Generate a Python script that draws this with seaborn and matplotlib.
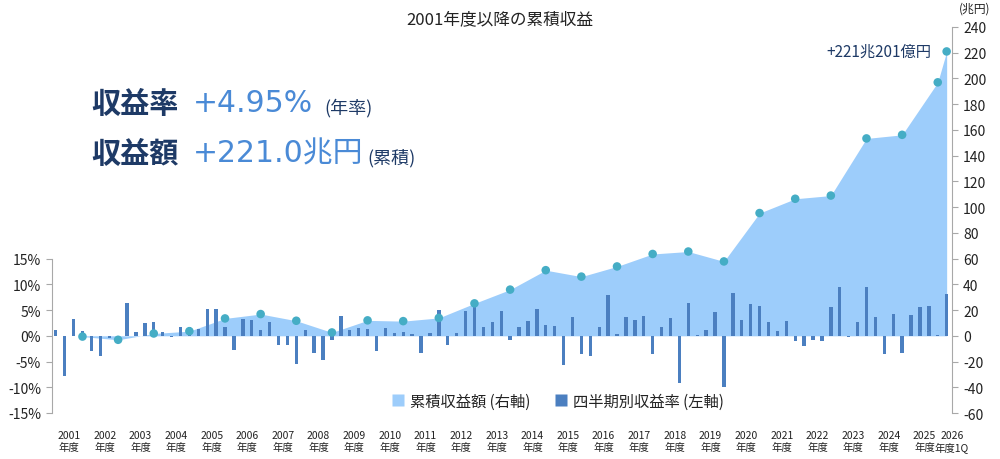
import numpy as np
import pandas as pd
import matplotlib
matplotlib.use("Agg")
import matplotlib.pyplot as plt
from matplotlib.lines import Line2D
import seaborn as sns

# ---------------- data ----------------
fiscal_years = [str(y) for y in range(2001, 2026)]
quarterly_returns = [
    1.1, -7.8, 3.2, 1.0,     # 2001
    -3.0, -4.0, -0.5, -0.3,  # 2002
    6.3, 0.8, 2.5, 2.7,      # 2003
    0.8, -0.2, 1.8, 1.8,     # 2004
    1.4, 5.2, 5.3, 1.8,      # 2005
    -2.7, 3.2, 3.1, 1.2,     # 2006
    2.7, -1.8, -1.7, -5.4,   # 2007
    1.2, -3.4, -4.7, -0.8,   # 2008
    3.9, 1.1, 1.5, 1.3,      # 2009
    -2.9, 1.5, 0.6, 0.7,     # 2010
    0.3, -3.3, 0.5, 5.1,     # 2011
    -1.8, 0.5, 4.8, 5.8,     # 2012
    1.8, 2.7, 4.8, -0.8,     # 2013
    1.8, 2.9, 5.2, 2.1,      # 2014
    1.9, -5.6, 3.6, -3.5,    # 2015
    -4.0, 1.8, 8.0, 0.3,     # 2016
    3.6, 3.0, 3.9, -3.5,     # 2017
    1.7, 3.4, -9.1, 6.3,     # 2018
    0.1, 1.1, 4.7, -9.9,     # 2019
    8.3, 3.1, 6.2, 5.7,      # 2020
    2.7, 0.9, 2.9, -1.1,     # 2021
    -1.9, -0.8, -1.0, 5.5,   # 2022
    9.5, -0.3, 2.7, 9.5,     # 2023
    3.7, -3.6, 4.3, -3.4,    # 2024
    4.1, 5.5, 5.8, 0.2,      # 2025
    8.2,                     # 2026 1Q
]
cumulative_labels = fiscal_years + ["2026 1Q"]
cumulative_trillion = [
    -0.6, -3.1, 1.8, 3.6, 13.5, 16.9, 11.7, 2.6, 12.0, 11.4,
    13.9, 25.2, 35.9, 51.0, 46.0, 53.9, 63.6, 65.5, 57.8, 95.4,
    106.5, 109.0, 153.4, 156.2, 197.0, 221.0,
]
x_tick_labels = [f"{y}\n年度" for y in fiscal_years] + ["2026\n年度1Q"]
left_ticks = [-15, -10, -5, 0, 5, 10, 15]
left_tick_labels = [f"{t}%" for t in left_ticks]
right_ticks = list(range(-60, 241, 20))
right_tick_labels = [str(t) for t in right_ticks]

title_text = "2001年度以降の累積収益"
unit_text = "(兆円)"
last_label = "+221兆201億円"
legend_labels = ["累積収益額 (右軸)", "四半期別収益率 (左軸)"]

# ---------------- derived tables ----------------
q_idx = np.arange(len(quarterly_returns))
bars_df = pd.DataFrame({"q": q_idx, "ret": quarterly_returns})
dot_q = [4 * i + 3 for i in range(len(fiscal_years))] + [len(quarterly_returns) - 1]
cum_df = pd.DataFrame({"q": dot_q, "cum": cumulative_trillion, "label": cumulative_labels})
tick_pos = [4 * i + 1.5 for i in range(len(fiscal_years))] + [len(quarterly_returns) - 0.4]

# ---------------- style ----------------
sns.set_style("white")
plt.rcParams["font.family"] = ["Noto Sans CJK JP", "DejaVu Sans"]
NUMFONT = ["DejaVu Sans", "Noto Sans CJK JP"]

AREA = "#9dcdfb"
BAR = "#4b7fc0"
DOT = "#45adc5"
NAVY = "#1e3a66"
BLUE = "#4a8ad6"
GRAY = "#a8a8a8"
TXT = "#222222"

fig = plt.figure(figsize=(10, 4.6), dpi=100)
W, H = 1000, 460
ax_area = fig.add_axes([52 / W, 1 - 414 / H, 900 / W, 386 / H])
ax_bar = ax_area.twinx()
ax_dot = ax_area.twinx()

# area (right axis scale)
ax_area.fill_between(cum_df["q"], 0, cum_df["cum"], color=AREA, linewidth=0)

# bars (left axis scale)
sns.barplot(data=bars_df, x="q", y="ret", ax=ax_bar, native_scale=True,
            color=BAR, saturation=1, width=0.38, errorbar=None,
            linewidth=0, edgecolor="none")

# dots (right axis scale)
sns.scatterplot(data=cum_df, x="q", y="cum", ax=ax_dot, color=DOT, s=38,
                edgecolor="none", legend=False, zorder=5)

xlim = (-0.42, len(quarterly_returns) - 1 + 0.56)
for a in (ax_area, ax_bar, ax_dot):
    a.set_xlim(*xlim)
    a.set_xlabel("")
    a.set_ylabel("")
    for s in a.spines.values():
        s.set_visible(False)

ax_area.set_ylim(-60, 240)
ax_dot.set_ylim(-60, 240)
ax_bar.set_ylim(-15, 60)

# right axis (cumulative)
ax_area.yaxis.tick_right()
ax_area.set_yticks(right_ticks)
ax_area.set_yticklabels(right_tick_labels)
ax_area.spines["right"].set_visible(True)
ax_area.spines["right"].set_color(GRAY)
ax_area.tick_params(axis="y", which="both", right=True, left=False, length=4,
                    color=GRAY, labelsize=10, labelcolor=TXT, pad=4)

# left axis (quarterly %)
ax_bar.yaxis.tick_left()
ax_bar.set_yticks(left_ticks)
ax_bar.set_yticklabels(left_tick_labels)
ax_bar.spines["left"].set_visible(True)
ax_bar.spines["left"].set_color(GRAY)
ax_bar.spines["left"].set_bounds(-15, 15)
ax_bar.tick_params(axis="y", which="both", left=True, right=False, length=4,
                   color=GRAY, labelsize=10, labelcolor=TXT, pad=4)

ax_dot.set_yticks([])
ax_dot.tick_params(axis="both", length=0, labelleft=False, labelright=False,
                   labelbottom=False)
ax_bar.tick_params(axis="x", length=0, labelbottom=False)

ax_area.set_xticks(tick_pos)
ax_area.set_xticklabels(x_tick_labels, fontsize=7.5, color=TXT, linespacing=1.25)
ax_area.tick_params(axis="x", length=0, pad=12)

# texts
fig.text(500 / W, 1 - 20 / H, title_text, ha="center", va="center",
         fontsize=12, color=TXT)
fig.text(975 / W, 1 - 9 / H, unit_text, ha="center", va="center",
         fontsize=8.5, color=TXT)
ax_dot.annotate(last_label, xy=(cum_df["q"].iloc[-1], cum_df["cum"].iloc[-1]),
                xytext=(-11, 0), textcoords="offset points", ha="right",
                va="center", fontsize=11, color=NAVY)

fig.text(91 / W, 1 - 104 / H, "収益率", ha="left", va="center",
         fontsize=21, fontweight="bold", color=NAVY)
fig.text(193 / W, 1 - 104 / H, "+4.95%", ha="left", va="center",
         fontsize=21.5, color=BLUE, family=NUMFONT)
fig.text(324 / W, 1 - 108 / H, "(年率)", ha="left", va="center",
         fontsize=13, color=NAVY)
fig.text(91 / W, 1 - 154 / H, "収益額", ha="left", va="center",
         fontsize=21, fontweight="bold", color=NAVY)
fig.text(193 / W, 1 - 154 / H, "+221.0兆円", ha="left", va="center",
         fontsize=21.5, color=BLUE, family=NUMFONT)
fig.text(367 / W, 1 - 158 / H, "(累積)", ha="left", va="center",
         fontsize=13, color=NAVY)

handles = [
    Line2D([], [], marker="s", linestyle="none", markersize=8,
           markerfacecolor=AREA, markeredgecolor="none"),
    Line2D([], [], marker="s", linestyle="none", markersize=8,
           markerfacecolor=BAR, markeredgecolor="none"),
]
fig.legend(handles, legend_labels, loc="center", bbox_to_anchor=(558 / W, 1 - 402 / H),
           ncol=2, frameon=False, fontsize=11, handlelength=0.8,
           handletextpad=0.4, columnspacing=1.6, labelcolor=TXT)

fig.savefig("out.png", dpi=100, facecolor="white")
